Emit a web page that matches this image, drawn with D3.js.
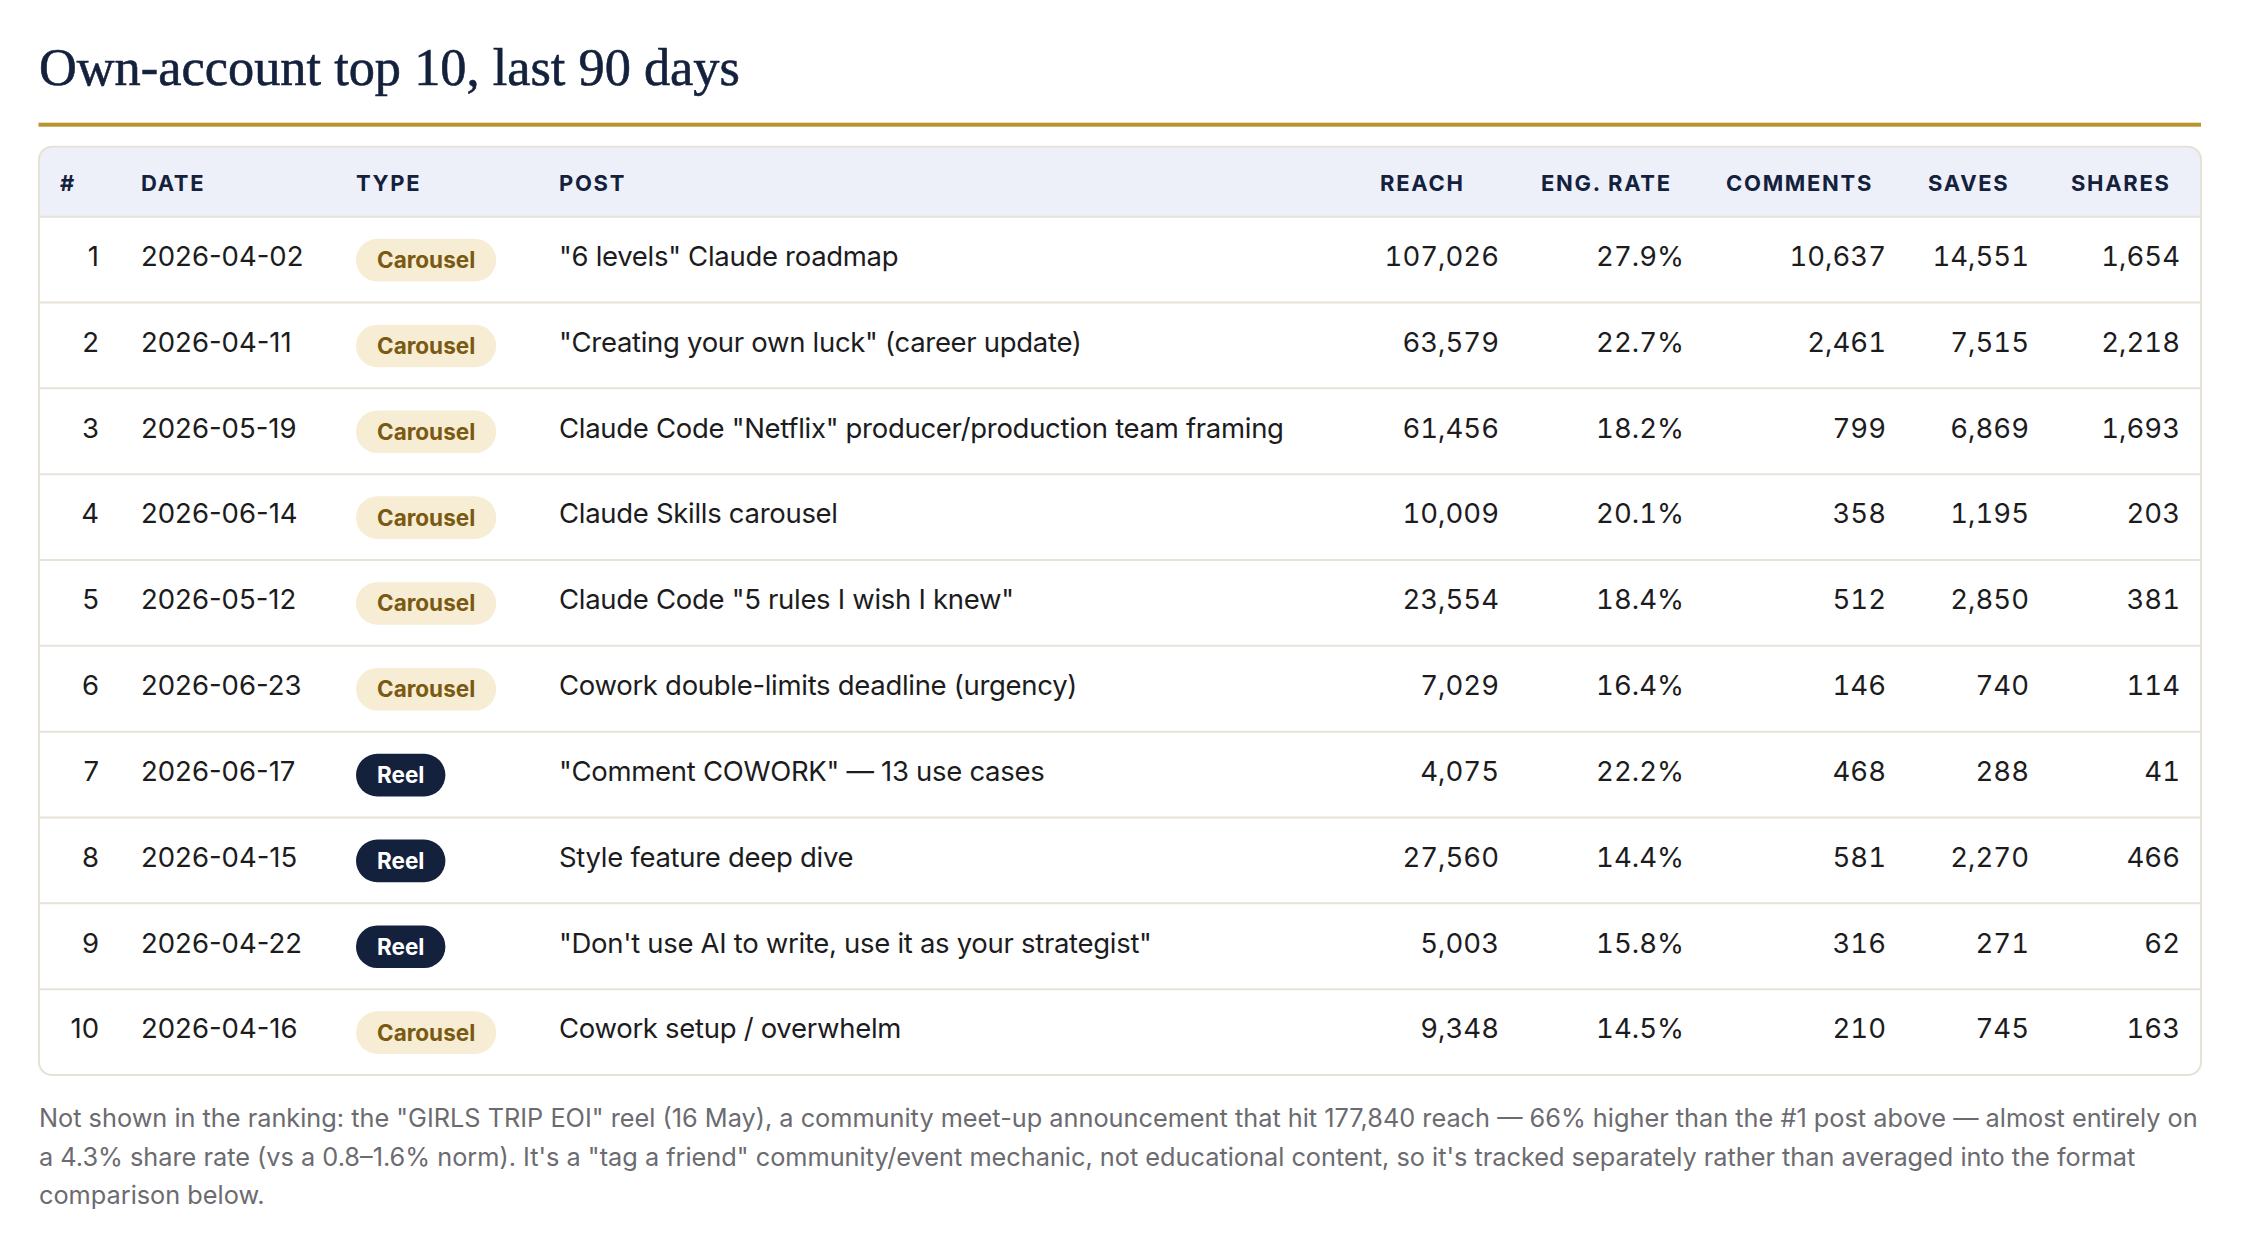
<!DOCTYPE html>
<html>
<head>
<meta charset="utf-8">
<script src="https://cdn.jsdelivr.net/npm/d3@7"></script>
<style>
  html, body { margin: 0; padding: 0; background: #ffffff; }
  svg { display: block; }
  .tnum { font-variant-numeric: tabular-nums; font-feature-settings: "tnum" 1; }
</style>
</head>
<body>
<div id="chart"></div>
<script>
// ---------------- DATA ----------------
const titleText = "Own-account top 10, last 90 days";
const headers = ["#", "DATE", "TYPE", "POST", "REACH", "ENG. RATE", "COMMENTS", "SAVES", "SHARES"];
const ranks = [1, 2, 3, 4, 5, 6, 7, 8, 9, 10];
const dates = ["2026-04-02", "2026-04-11", "2026-05-19", "2026-06-14", "2026-05-12",
               "2026-06-23", "2026-06-17", "2026-04-15", "2026-04-22", "2026-04-16"];
const types = ["Carousel", "Carousel", "Carousel", "Carousel", "Carousel",
               "Carousel", "Reel", "Reel", "Reel", "Carousel"];
const posts = [
  "\"6 levels\" Claude roadmap",
  "\"Creating your own luck\" (career update)",
  "Claude Code \"Netflix\" producer/production team framing",
  "Claude Skills carousel",
  "Claude Code \"5 rules I wish I knew\"",
  "Cowork double-limits deadline (urgency)",
  "\"Comment COWORK\" \u2014 13 use cases",
  "Style feature deep dive",
  "\"Don't use AI to write, use it as your strategist\"",
  "Cowork setup / overwhelm"
];
const reach    = [107026, 63579, 61456, 10009, 23554, 7029, 4075, 27560, 5003, 9348];
const engRate  = [27.9, 22.7, 18.2, 20.1, 18.4, 16.4, 22.2, 14.4, 15.8, 14.5];
const comments = [10637, 2461, 799, 358, 512, 146, 468, 581, 316, 210];
const saves    = [14551, 7515, 6869, 1195, 2850, 740, 288, 2270, 271, 745];
const shares   = [1654, 2218, 1693, 203, 381, 114, 41, 466, 62, 163];
const noteLines = [
  "Not shown in the ranking: the \"GIRLS TRIP EOI\" reel (16 May), a community meet-up announcement that hit 177,840 reach \u2014 66% higher than the #1 post above \u2014 almost entirely on",
  "a 4.3% share rate (vs a 0.8\u20131.6% norm). It's a \"tag a friend\" community/event mechanic, not educational content, so it's tracked separately rather than averaged into the format",
  "comparison below."
];

// ---------------- LAYOUT / STYLE ----------------
const W = 2242, H = 1260;
const C = {
  navy: "#14213d", gold: "#b8952f", border: "#e7e2d6", headBg: "#edf0f8",
  text: "#1c1c1e", note: "#6b6b70", carBg: "#f7edd5", carText: "#7a5a12", reelBg: "#14213d"
};
const sans = "Inter, 'Noto Sans', 'Liberation Sans', sans-serif";
const serif = "'Liberation Serif', 'DejaVu Serif', serif";

const tbl = { x: 39, y: 146.7, right: 2201, headBottom: 216.7, bottom: 1075, rx: 13 };
const colEdges = [39, 120, 335, 538, 1359, 1520, 1705, 1907, 2050, 2201];
const pad = 21;
const numCols = [0, 4, 5, 6, 7, 8]; // right-aligned columns
const tnumCols = [4, 5, 6, 7, 8];

const svg = d3.select("#chart").append("svg")
  .attr("width", W).attr("height", H)
  .attr("viewBox", `0 0 ${W} ${H}`);

// Title
const title = svg.append("text")
  .attr("x", 39).attr("y", 85)
  .attr("font-family", serif)
  .attr("font-size", 50)
  .attr("fill", C.navy)
  .attr("stroke", C.navy).attr("stroke-width", 0.6)
  .text(titleText);
const targetTitleW = 701;
const tw = title.node().getComputedTextLength();
title.attr("font-size", 50 * targetTitleW / tw);

// Gold rule
svg.append("rect")
  .attr("x", 38.5).attr("y", 122.7)
  .attr("width", 2201 - 38.5).attr("height", 4)
  .attr("fill", C.gold);

// Table frame
const defs = svg.append("defs");
defs.append("clipPath").attr("id", "tblclip")
  .append("rect")
  .attr("x", tbl.x).attr("y", tbl.y)
  .attr("width", tbl.right - tbl.x).attr("height", tbl.bottom - tbl.y)
  .attr("rx", tbl.rx);

const g = svg.append("g").attr("clip-path", "url(#tblclip)");
g.append("rect")
  .attr("x", tbl.x).attr("y", tbl.y)
  .attr("width", tbl.right - tbl.x).attr("height", tbl.headBottom - tbl.y)
  .attr("fill", C.headBg);

const y = d3.scaleBand().domain(ranks).range([tbl.headBottom, tbl.bottom]).padding(0);

g.selectAll("line.sep")
  .data(ranks)
  .join("line")
  .attr("class", "sep")
  .attr("x1", tbl.x).attr("x2", tbl.right)
  .attr("y1", d => y(d)).attr("y2", d => y(d))
  .attr("stroke", C.border).attr("stroke-width", 2);

svg.append("rect")
  .attr("x", tbl.x).attr("y", tbl.y)
  .attr("width", tbl.right - tbl.x).attr("height", tbl.bottom - tbl.y)
  .attr("rx", tbl.rx)
  .attr("fill", "none")
  .attr("stroke", C.border).attr("stroke-width", 2);

// Headers
svg.append("g").selectAll("text")
  .data(headers)
  .join("text")
  .attr("x", (d, i) => colEdges[i] + pad)
  .attr("y", 190.5)
  .attr("font-family", sans)
  .attr("font-weight", 700)
  .attr("font-size", 22)
  .attr("letter-spacing", "1.7px")
  .attr("fill", C.navy)
  .text(d => d);

// Rows
const fmtInt = d3.format(",");
const fmtPct = d => d3.format(".1f")(d) + "%";
const rows = ranks.map((r, i) => ({
  rank: r, type: types[i],
  cells: [String(r), dates[i], null, posts[i], fmtInt(reach[i]), fmtPct(engRate[i]),
          fmtInt(comments[i]), fmtInt(saves[i]), fmtInt(shares[i])]
}));

const rowG = svg.append("g").selectAll("g.row")
  .data(rows)
  .join("g")
  .attr("class", "row")
  .attr("transform", d => `translate(0, ${y(d.rank)})`);

const bh = y.bandwidth();

rowG.each(function(d) {
  const r = d3.select(this);
  d.cells.forEach((c, ci) => {
    if (c === null) return;
    const right = numCols.includes(ci);
    r.append("text")
      .attr("class", tnumCols.includes(ci) ? "tnum" : null)
      .attr("x", right ? colEdges[ci + 1] - pad : colEdges[ci] + pad)
      .attr("y", bh / 2 + 6.3)
      .attr("text-anchor", right ? "end" : "start")
      .attr("font-family", sans)
      .attr("font-size", 27.5)
      .attr("letter-spacing", ci === 3 ? "-0.3px" : null)
      .attr("fill", C.text)
      .text(c);
  });
  const isReel = d.type === "Reel";
  const bg = r.append("g").attr("transform", `translate(${colEdges[2] + pad}, ${bh / 2 + 0.5})`);
  const rect = bg.append("rect");
  const t = bg.append("text")
    .attr("x", 21).attr("y", 8)
    .attr("font-family", sans)
    .attr("font-weight", 700)
    .attr("font-size", 22.5)
    .attr("fill", isReel ? "#ffffff" : C.carText)
    .text(d.type);
  const w = t.node().getComputedTextLength() + 42;
  rect.attr("x", 0).attr("y", -21.3)
    .attr("width", w).attr("height", 42.6)
    .attr("rx", 21.3)
    .attr("fill", isReel ? C.reelBg : C.carBg);
});

// Note
svg.append("g").selectAll("text")
  .data(noteLines)
  .join("text")
  .attr("x", 39)
  .attr("y", (d, i) => 1127 + i * 38.7)
  .attr("font-family", sans)
  .attr("font-size", 25.3)
  .attr("fill", C.note)
  .text(d => d);
</script>
</body>
</html>
